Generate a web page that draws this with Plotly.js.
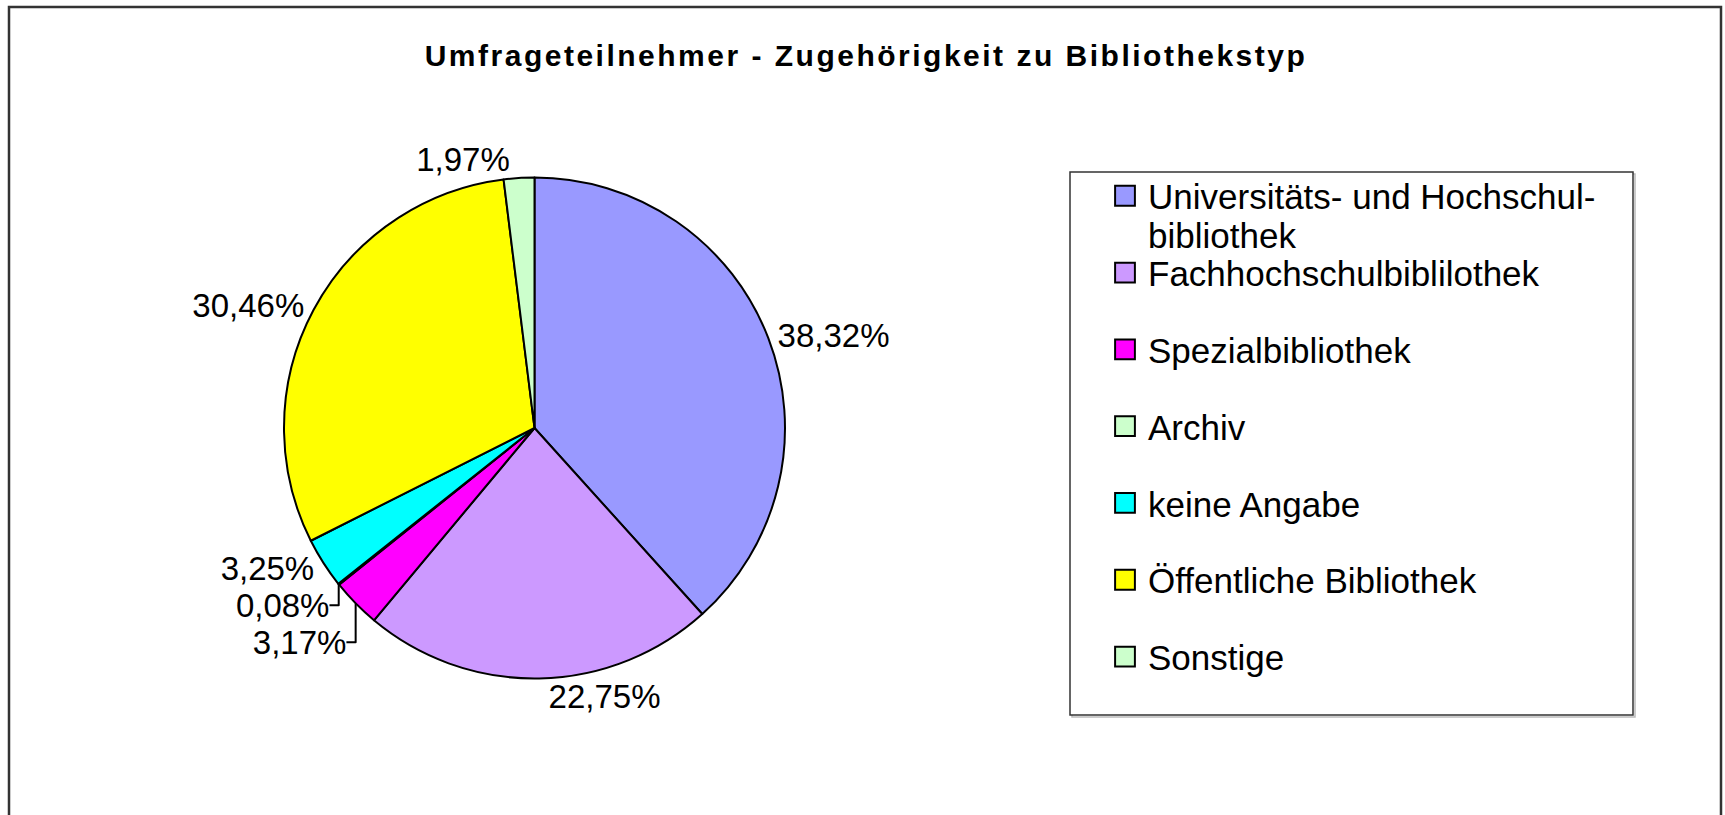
<!DOCTYPE html>
<html>
<head>
<meta charset="utf-8">
<script src="https://cdn.plot.ly/plotly-3.0.1.min.js"></script>
<style>
html,body{margin:0;padding:0;background:#fff;}
#chart{width:1725px;height:815px;}
#chart .gtitle{letter-spacing:2.5px;}
</style>
</head>
<body>
<div id="chart"></div>
<script>
const categories = [
  "Universitäts- und Hochschul-<br>bibliothek",
  "Fachhochschulbiblilothek",
  "Spezialbibliothek",
  "Archiv",
  "keine Angabe",
  "Öffentliche Bibliothek",
  "Sonstige"
];
const shares = [38.32, 22.75, 3.17, 0.08, 3.25, 30.46, 1.97];
const sliceColors = ["#9999FF", "#CC99FF", "#FF00FF", "#CCFFCC", "#00FFFF", "#FFFF00", "#CCFFCC"];
const chartTitle = "Umfrageteilnehmer - Zugehörigkeit zu Bibliothekstyp";

const W = 1725, H = 815;
const font = "Liberation Sans, Arial, sans-serif";
const px = v => v / W, py = v => 1 - v / H;
const LEGEND_FONT = 35;
const LEGEND_STEP = 76.8;

const trace = {
  type: "pie",
  labels: categories,
  values: shares,
  sort: false,
  direction: "clockwise",
  rotation: 0,
  marker: { colors: sliceColors, line: { color: "#000000", width: 2 } },
  textinfo: "percent",
  texttemplate: "%{percent:.2%}",
  textposition: "outside",
  outsidetextfont: { family: font, size: 33, color: "#000000" },
  hoverinfo: "label+percent",
  domain: { x: [px(284), px(785)], y: [py(680), py(176)] }
};

const layout = {
  width: W, height: H,
  margin: { l: 0, r: 0, t: 0, b: 0 },
  paper_bgcolor: "#ffffff",
  separators: ",.",
  font: { family: font, color: "#000000" },
  title: {
    text: "<b>" + chartTitle + "</b>",
    font: { family: font, size: 30, color: "#000000" },
    x: px(866), xanchor: "center",
    y: py(55), yanchor: "middle"
  },
  showlegend: true,
  legend: {
    x: px(1102), xanchor: "left",
    y: py(166.5), yanchor: "top",
    valign: "top",
    itemwidth: 36,
    font: { family: font, size: LEGEND_FONT, color: "#000000" },
    bgcolor: "rgba(0,0,0,0)",
    borderwidth: 0
  },
  shapes: [
    { type: "rect", xref: "paper", yref: "paper", x0: px(9), x1: px(1721), y0: py(7), y1: -0.05,
      line: { color: "#333333", width: 2.5 }, fillcolor: "rgba(0,0,0,0)", layer: "below" },
    { type: "rect", xref: "paper", yref: "paper", x0: px(1072), x1: px(1635), y0: py(174), y1: py(717),
      line: { color: "#bbbbbb", width: 1.5 }, fillcolor: "rgba(0,0,0,0)", layer: "below" },
    { type: "rect", xref: "paper", yref: "paper", x0: px(1070), x1: px(1633), y0: py(172), y1: py(715),
      line: { color: "#333333", width: 1.5 }, fillcolor: "#ffffff", layer: "below" }
  ]
};

Plotly.newPlot("chart", [trace], layout, { staticPlot: true }).then(gd => {
  // spread legend entries evenly like the original chart
  const sb = gd.querySelector(".legend .scrollbox");
  if (sb) sb.removeAttribute("clip-path");
  const items = gd.querySelectorAll(".legend .traces");
  if (items.length) {
    const m = /translate\(\s*([-\d.]+)[ ,]+([-\d.]+)/.exec(items[0].getAttribute("transform") || "");
    const x0 = m ? +m[1] : 0, y0 = m ? +m[2] : 0;
    // first text line of the two-line entry sits half a line above its item centre
    const firstLineY = y0 - 0.5 * LEGEND_FONT * 1.3;
    items.forEach((g, i) => {
      if (i > 0) g.setAttribute("transform", `translate(${x0},${firstLineY + i * LEGEND_STEP})`);
    });
    const lines = items[0].querySelectorAll(".legendtext tspan.line");
    if (lines.length > 1) lines[1].setAttribute("dy", "1.1em");
  }
  gd.querySelectorAll(".legend .legendpoints path").forEach(p => {
    const t = p.getAttribute("transform") || "";
    p.setAttribute("transform", (t + " scale(1.65)").trim());
    p.style.strokeWidth = "1.2px";
  });
});
</script>
</body>
</html>
